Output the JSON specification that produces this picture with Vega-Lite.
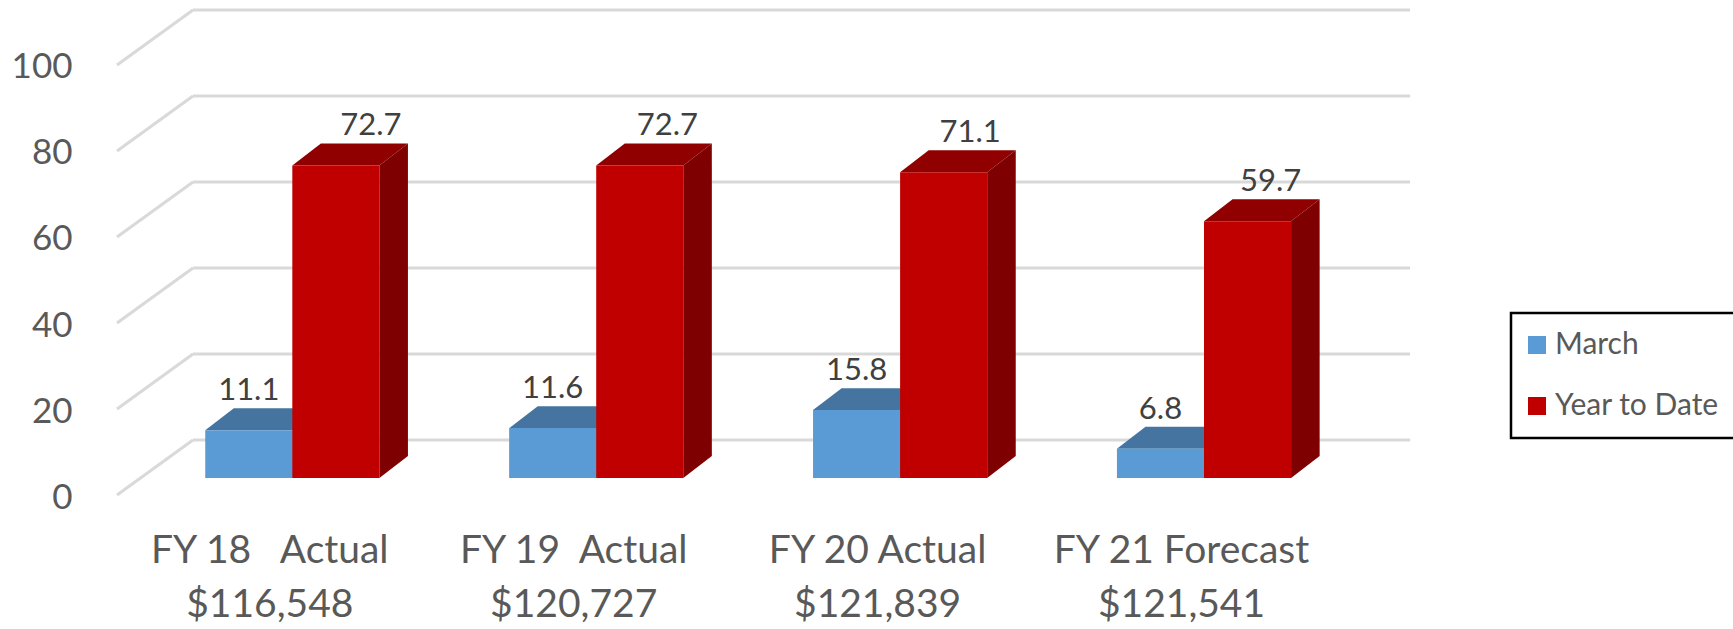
{"$schema":"https://vega.github.io/schema/vega-lite/v6.json","width":1655,"height":510,"padding":{"left":78,"top":0,"right":0,"bottom":119},"autosize":"none","background":"white","config":{"view":{"stroke":null},"font":"Lato","legend":{"strokeWidth":2.5}},
"datasets":{"bars":[
{"slot":0,"category":"FY 18 Actual","series":"March","value":11.1},
{"slot":1,"category":"FY 19 Actual","series":"March","value":11.6},
{"slot":2,"category":"FY 20 Actual","series":"March","value":15.8},
{"slot":3,"category":"FY 21 Forecast","series":"March","value":6.8},
{"slot":0,"category":"FY 18 Actual","series":"Year to Date","value":72.7},
{"slot":1,"category":"FY 19 Actual","series":"Year to Date","value":72.7},
{"slot":2,"category":"FY 20 Actual","series":"Year to Date","value":71.1},
{"slot":3,"category":"FY 21 Forecast","series":"Year to Date","value":59.7}],
"ticks":[{"tick":0},{"tick":20},{"tick":40},{"tick":60},{"tick":80},{"tick":100}]},
"resolve":{"scale":{"color":"independent"}},
"encoding":{
"x":{"type":"quantitative","scale":{"domain":[-0.7052,4.7407],"nice":false,"zero":false},
"axis":{"values":[0,1,2,3],"title":null,"domain":false,"ticks":false,"grid":false,"labelFont":"Lato","labelFontSize":39,"labelColor":"#595959","labelOffset":-23,"labelPadding":21,"labelBaseline":"top","labelLineHeight":54,"labelFlush":false,"labelOverlap":false,"labelLimit":400,"labelExpr":"[['FY 18\u00a0\u00a0 Actual','$116,548'],['FY 19\u00a0 Actual','$120,727'],['FY 20 Actual','$121,839'],['FY 21 Forecast','$121,541']][datum.value]"}},
"y":{"type":"quantitative","scale":{"domain":[-7.44,111.16],"nice":false,"zero":false},
"axis":{"values":[0,20,40,60,80,100],"title":null,"domain":false,"ticks":false,"grid":false,"labelFont":"Lato","labelFontSize":35,"labelColor":"#595959","labelOffset":19,"labelPadding":6}}},
"layer":[
{"data":{"name":"ticks"},"transform":[{"calculate":"datum.tick+8.85","as":"wall"},{"calculate":"datum.tick-3.95","as":"front"}],
"mark":{"type":"rule","stroke":"#d9d9d9","strokeWidth":3},
"encoding":{"x":{"datum":-0.5768},"x2":{"datum":-0.3268},"y":{"field":"front"},"y2":{"field":"wall"}}},
{"data":{"name":"ticks"},"transform":[{"calculate":"datum.tick+8.85","as":"wall"}],
"mark":{"type":"rule","stroke":"#d9d9d9","strokeWidth":3},
"encoding":{"x":{"datum":-0.3268},"x2":{"datum":3.678},"y":{"field":"wall"}}},
{"data":{"name":"bars"},"transform":[
{"calculate":"datum.series==='March'?datum.slot-0.2865:datum.slot","as":"xL"},
{"calculate":"datum.xL+0.2865","as":"xR"},
{"calculate":"[0,1,2,3]","as":"v"},{"flatten":["v"]},
{"calculate":"[datum.xL,datum.xL+0.094,datum.xR,datum.xR+0.094][datum.v]","as":"px"},
{"calculate":"datum.v==3?datum.value+5.1:datum.value","as":"lo"},
{"calculate":"datum.v==0?datum.value:datum.value+5.1","as":"hi"}],
"mark":{"type":"area","orient":"vertical","line":false},
"encoding":{"x":{"field":"px"},"y":{"field":"lo","stack":null},"y2":{"field":"hi"},"detail":{"field":"slot"},
"color":{"field":"series","type":"nominal","legend":null,"scale":{"domain":["March","Year to Date"],"range":["#44749f","#900000"]}}}},
{"data":{"name":"bars"},"transform":[
{"calculate":"datum.series==='March'?datum.slot-0.2865:datum.slot","as":"xL"},
{"calculate":"datum.xL+0.2865","as":"xR"},
{"calculate":"[0,1]","as":"v"},{"flatten":["v"]},
{"calculate":"datum.v==0?datum.xR:datum.xR+0.094","as":"px"},
{"calculate":"datum.v==0?0:5.1","as":"lo"},
{"calculate":"datum.v==0?datum.value:datum.value+5.1","as":"hi"}],
"mark":{"type":"area","orient":"vertical","line":false},
"encoding":{"x":{"field":"px"},"y":{"field":"lo","stack":null},"y2":{"field":"hi"},"detail":{"field":"slot"},
"color":{"field":"series","type":"nominal","legend":null,"scale":{"domain":["March","Year to Date"],"range":["#3f6d98","#7f0000"]}}}},
{"data":{"name":"bars"},"transform":[
{"calculate":"datum.series==='March'?datum.slot-0.2865:datum.slot","as":"xL"},
{"calculate":"datum.xL+0.2865","as":"xR"}],
"mark":{"type":"rect"},
"encoding":{"x":{"field":"xL"},"x2":{"field":"xR"},"y":{"field":"value"},"y2":{"datum":0},
"color":{"field":"series","type":"nominal","scale":{"domain":["March","Year to Date"],"range":["#5b9bd5","#c00000"]},
"legend":{"orient":"none","legendX":1433,"legendY":313,"title":null,"strokeColor":"#000000","fillColor":"#ffffff","padding":17,"symbolType":"square","symbolSize":324,"symbolStrokeWidth":0,"symbolOffset":-6,"labelFont":"Lato","labelFontSize":30,"labelColor":"#595959","labelOffset":3,"rowPadding":31,"labelLimit":300}}}},
{"data":{"name":"bars"},"transform":[
{"calculate":"datum.series==='March'?datum.slot-0.14325:datum.slot+0.14325+[0.115,0.091,0.087,0.076][datum.slot]","as":"lx"},
{"calculate":"datum.value+9.1","as":"ly"}],
"mark":{"type":"text","font":"Lato","fontSize":31,"color":"#404040","baseline":"middle","align":"center"},
"encoding":{"x":{"field":"lx"},"y":{"field":"ly"},"text":{"field":"value","type":"quantitative","format":".1f"}}}
]}
